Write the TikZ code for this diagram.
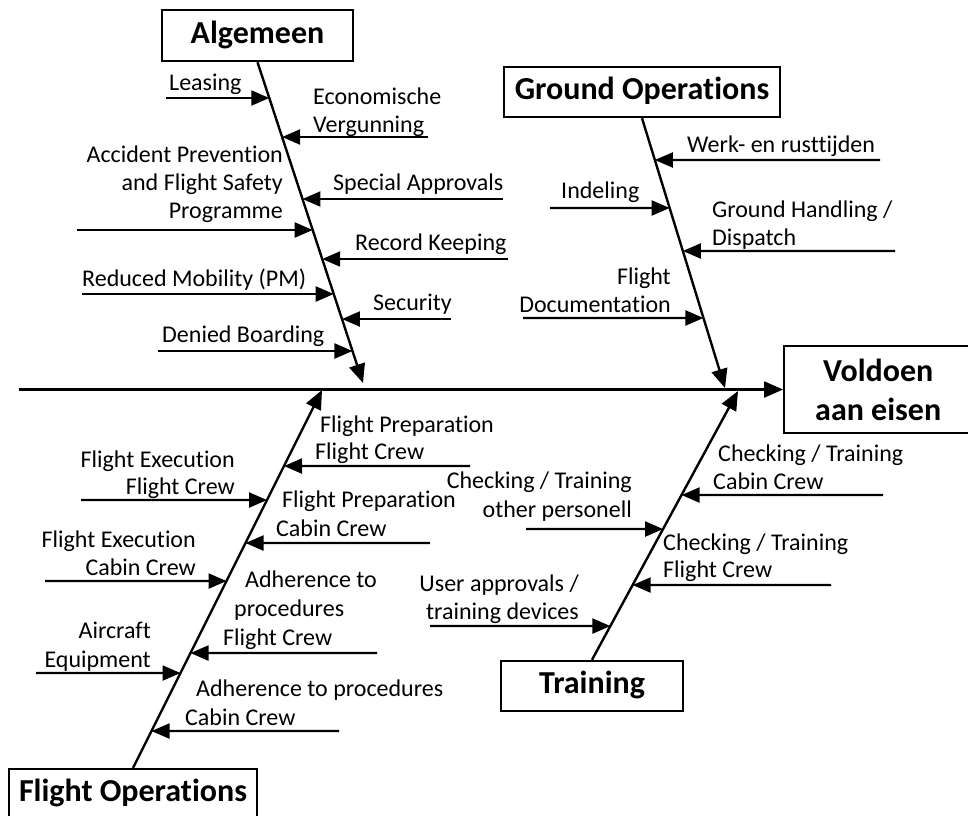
\documentclass[tikz,border=0pt]{standalone}
\usepackage{fontspec}
\setmainfont{Carlito}[Ligatures=CommonOff]
\usetikzlibrary{arrows.meta,calc}

\newcommand\lblfont{\fontsize{24}{28}\selectfont}
\newcommand\ttlfont{\fontsize{32}{39}\selectfont\bfseries}

% a horizontal cause arrow from a start point to the slanted bone #2--#3
\newcommand\twig[3]{%
  \coordinate (#1h) at ($(#1)+(10,0)$);
  \draw[twig] (#1) -- (intersection of #2--#3 and #1--#1h);
}

\tikzset{
  box/.style={draw, line width=2.4pt, inner sep=0pt, font=\ttlfont,
              text height=22pt, text depth=7pt},
  bone/.style={line width=2.4pt, -{Triangle[length=19pt,width=16pt]}},
  twig/.style={line width=2.2pt, -{Triangle[length=18pt,width=15pt]}},
  lbl/.style={inner sep=0pt, font=\lblfont},
}

\begin{document}
\begin{tikzpicture}[x=1pt,y=-1pt]
\useasboundingbox (0,0) rectangle (968,815);

% ---- category boxes and effect box ----
\node[box, minimum width=191, minimum height=51] (alg) at (257.5,35.5) {Algemeen};
\node[box, minimum width=276, minimum height=50] (gro) at (642,92) {Ground Operations};
\node[box, minimum width=182, minimum height=50] (tr)  at (592,686) {Training};
\node[box, minimum width=248, minimum height=50, anchor=north] (fo) at (133,768) {Flight Operations};
\node[draw, line width=2.4pt, inner sep=0pt, align=center, font=\ttlfont,
      minimum width=188, minimum height=87, anchor=west] (eff) at (783,389.5) {Voldoen\\aan eisen};

% ---- spine ----
\coordinate (tail) at (19,389.5);
\draw[bone] (tail) -- (eff.west);

% ---- main bones ----
\coordinate (agA) at (alg.south);  \coordinate (agB) at (363,383);
\coordinate (goA) at (gro.south);  \coordinate (goB) at (725,388);
\coordinate (foA) at (fo.north);   \coordinate (foB) at (322,390);
\coordinate (trA) at (tr.north);   \coordinate (trB) at (738,391);
\draw[bone] (agA) -- (agB);
\draw[bone] (goA) -- (goB);
\draw[bone] (foA) -- (foB);
\draw[bone] (trA) -- (trB);

% ---- Algemeen ----
\coordinate (c1) at (166,98);   \twig{c1}{agA}{agB}
\coordinate (c2) at (428,137);  \twig{c2}{agA}{agB}
\coordinate (c3) at (503,199);  \twig{c3}{agA}{agB}
\coordinate (c4) at (77,230);   \twig{c4}{agA}{agB}
\coordinate (c5) at (508,259);  \twig{c5}{agA}{agB}
\coordinate (c6) at (82,294);   \twig{c6}{agA}{agB}
\coordinate (c7) at (451,319);  \twig{c7}{agA}{agB}
\coordinate (c8) at (158,351);  \twig{c8}{agA}{agB}

\node[lbl, anchor=base west] (l1)  at (169,90)  {Leasing};
\node[lbl, anchor=base west] (l2a) at (313,104) {Economische};
\node[lbl, anchor=base west] (l2b) at (313,132) {Vergunning};
\node[lbl, anchor=base west] (l3)  at (333,190) {Special Approvals};
\node[lbl, anchor=base east] (l4a) at (283,162) {Accident Prevention};
\node[lbl, anchor=base east] (l4b) at (283,190) {and Flight Safety};
\node[lbl, anchor=base east] (l4c) at (283,218) {Programme};
\node[lbl, anchor=base west] (l5)  at (355,250) {Record Keeping};
\node[lbl, anchor=base west] (l6)  at (82,286)  {Reduced Mobility (PM)};
\node[lbl, anchor=base west] (l7)  at (373,310) {Security};
\node[lbl, anchor=base west] (l8)  at (162,342) {Denied Boarding};

% ---- Ground Operations ----
\coordinate (g1) at (880,160);  \twig{g1}{goA}{goB}
\coordinate (g2) at (550,208);  \twig{g2}{goA}{goB}
\coordinate (g3) at (895,251);  \twig{g3}{goA}{goB}
\coordinate (g4) at (523,318);  \twig{g4}{goA}{goB}

\node[lbl, anchor=base west] (m1)  at (687,152) {Werk- en rusttijden};
\node[lbl, anchor=base west] (m2)  at (561,198) {Indeling};
\node[lbl, anchor=base west] (m3a) at (712,217) {Ground Handling /};
\node[lbl, anchor=base west] (m3b) at (712,245) {Dispatch};
\node[lbl, anchor=base east] (m4a) at (671,284) {Flight};
\node[lbl, anchor=base east] (m4b) at (671,312) {Documentation};

% ---- Flight Operations ----
\coordinate (f1) at (470,466);  \twig{f1}{foA}{foB}
\coordinate (f2) at (81,500);   \twig{f2}{foA}{foB}
\coordinate (f3) at (430,543);  \twig{f3}{foA}{foB}
\coordinate (f4) at (45,581);   \twig{f4}{foA}{foB}
\coordinate (f5) at (377,653);  \twig{f5}{foA}{foB}
\coordinate (f6) at (36,673);   \twig{f6}{foA}{foB}
\coordinate (f7) at (339,731);  \twig{f7}{foA}{foB}

\node[lbl, anchor=base west] (n1a) at (320,432) {Flight Preparation};
\node[lbl, anchor=base west] (n1b) at (315,459) {Flight Crew};
\node[lbl, anchor=base east] (n2a) at (235,467) {Flight Execution};
\node[lbl, anchor=base east] (n2b) at (235,494) {Flight Crew};
\node[lbl, anchor=base west] (n3a) at (282,507) {Flight Preparation};
\node[lbl, anchor=base west] (n3b) at (276,536) {Cabin Crew};
\node[lbl, anchor=base east] (n4a) at (196,547) {Flight Execution};
\node[lbl, anchor=base east] (n4b) at (196,575) {Cabin Crew};
\node[lbl, anchor=base west] (n5a) at (245,587) {Adherence to};
\node[lbl, anchor=base west] (n5b) at (234,616) {procedures};
\node[lbl, anchor=base west] (n5c) at (223,645) {Flight Crew};
\node[lbl, anchor=base east] (n6a) at (151,638) {Aircraft};
\node[lbl, anchor=base east] (n6b) at (151,667) {Equipment};
\node[lbl, anchor=base west] (n7a) at (196,696) {Adherence to procedures};
\node[lbl, anchor=base west] (n7b) at (185,725) {Cabin Crew};

% ---- Training ----
\coordinate (t1) at (883,495);  \twig{t1}{trA}{trB}
\coordinate (t2) at (526,529);  \twig{t2}{trA}{trB}
\coordinate (t3) at (831,585);  \twig{t3}{trA}{trB}
\coordinate (t4) at (430,626);  \twig{t4}{trA}{trB}

\node[lbl, anchor=base west] (p1a) at (718,461) {Checking / Training};
\node[lbl, anchor=base west] (p1b) at (713,489) {Cabin Crew};
\node[lbl, anchor=base east] (p2a) at (632,488) {Checking / Training};
\node[lbl, anchor=base east] (p2b) at (632,517) {other personell};
\node[lbl, anchor=base west] (p3a) at (663,550) {Checking / Training};
\node[lbl, anchor=base west] (p3b) at (663,577) {Flight Crew};
\node[lbl, anchor=base east] (p4a) at (579,591) {User approvals /};
\node[lbl, anchor=base east] (p4b) at (579,619) {training devices};
\end{tikzpicture}
\end{document}
